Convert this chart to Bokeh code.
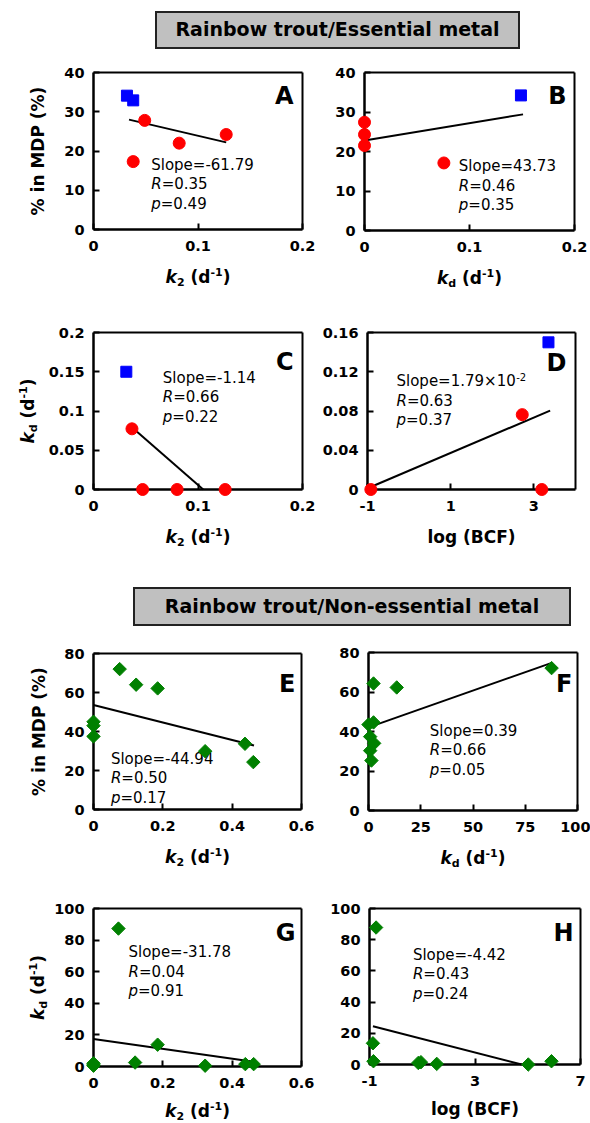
import numpy as np
from bokeh.plotting import figure
from bokeh.models import Range1d, FixedTicker, Label, Div, LinearAxis
from bokeh.layouts import column, row
from bokeh.embed import file_html
from bokeh.resources import INLINE

# ------------------------------------------------------------------ data
title_top = "Rainbow trout/Essential metal"
title_bottom = "Rainbow trout/Non-essential metal"

# Panel A: % in MDP vs k2 (essential)
a_red_x = [0.049, 0.082, 0.127, 0.038]
a_red_y = [27.8, 22.0, 24.2, 17.3]
a_blue_x = [0.032, 0.038]
a_blue_y = [34.1, 32.9]
a_fit_x = [0.034, 0.127]
a_fit_y = [28.0, 22.2]
a_stats = ["-61.79", "0.35", "0.49"]

# Panel B: % in MDP vs kd (essential)
b_red_x = [0.0, 0.0, 0.0, 0.0756]
b_red_y = [27.4, 24.3, 21.5, 17.1]
b_blue_x = [0.149]
b_blue_y = [34.2]
b_fit_x = [0.0, 0.151]
b_fit_y = [22.8, 29.4]
b_stats = ["43.73", "0.46", "0.35"]

# Panel C: kd vs k2 (essential)
c_red_x = [0.0368, 0.047, 0.080, 0.126]
c_red_y = [0.0773, 0.0, 0.0, 0.0]
c_blue_x = [0.0314]
c_blue_y = [0.150]
c_fit_x = [0.0337, 0.105]
c_fit_y = [0.0828, 0.0]
c_stats = ["-1.14", "0.66", "0.22"]

# Panel D: kd vs log(BCF) (essential)
d_red_x = [-0.92, 2.72, 3.19]
d_red_y = [0.0, 0.0763, 0.0]
d_blue_x = [3.35]
d_blue_y = [0.150]
d_fit_x = [-0.98, 3.39]
d_fit_y = [0.0015, 0.0804]
d_stats = ["1.79\u00d710", "0.63", "0.37"]
d_slope_exp = "-2"

# Panel E: % in MDP vs k2 (non-essential)
e_x = [0.0755, 0.123, 0.185, 0.0, 0.0, 0.0, 0.322, 0.437, 0.461]
e_y = [72.0, 64.0, 62.1, 45.0, 43.0, 37.5, 29.9, 33.7, 24.3]
e_fit_x = [0.0, 0.463]
e_fit_y = [53.6, 32.8]
e_stats = ["-44.94", "0.50", "0.17"]

# Panel F: % in MDP vs kd (non-essential)
f_x = [87.6, 2.4, 13.5, 0.0, 2.4, 0.8, 2.7, 0.8, 1.4]
f_y = [72.1, 64.3, 62.3, 43.5, 44.6, 37.4, 34.0, 30.3, 25.3]
f_fit_x = [0.0, 88.0]
f_fit_y = [42.1, 74.9]
f_stats = ["0.39", "0.66", "0.05"]

# Panel G: kd vs k2 (non-essential)
g_x = [0.072, 0.185, 0.0, 0.0, 0.0, 0.12, 0.322, 0.438, 0.462]
g_y = [87.3, 13.8, 2.0, 1.0, 0.5, 2.5, 0.5, 1.5, 1.5]
g_fit_x = [0.0, 0.462]
g_fit_y = [17.4, 3.0]
g_stats = ["-31.78", "0.04", "0.91"]

# Panel H: kd vs log(BCF) (non-essential)
h_x = [-0.75, -0.87, -0.85, 0.95, 0.85, 1.55, 5.02, 5.9]
h_y = [87.8, 13.6, 2.1, 1.5, 1.0, 0.4, 0.0, 2.1]
h_fit_x = [-0.87, 4.77]
h_fit_y = [24.5, 0.0]
h_stats = ["-4.42", "0.43", "0.24"]

# ticks
tk_k2_ess = [0, 0.1, 0.2]
tl_k2_ess = ["0", "0.1", "0.2"]
tk_pct40 = [0, 10, 20, 30, 40]
tl_pct40 = ["0", "10", "20", "30", "40"]
tk_kd_c = [0, 0.05, 0.1, 0.15, 0.2]
tl_kd_c = ["0", "0.05", "0.1", "0.15", "0.2"]
tk_kd_d = [0, 0.04, 0.08, 0.12, 0.16]
tl_kd_d = ["0", "0.04", "0.08", "0.12", "0.16"]
tk_bcf_d = [-1, 1, 3]
tl_bcf_d = ["-1", "1", "3"]
tk_k2_non = [0, 0.2, 0.4, 0.6]
tl_k2_non = ["0", "0.2", "0.4", "0.6"]
tk_pct80 = [0, 20, 40, 60, 80]
tl_pct80 = ["0", "20", "40", "60", "80"]
tk_kd_f = [0, 25, 50, 75, 100]
tl_kd_f = ["0", "25", "50", "75", "100"]
tk_kd100 = [0, 20, 40, 60, 80, 100]
tl_kd100 = ["0", "20", "40", "60", "80", "100"]
tk_bcf_h = [-1, 3, 7]
tl_bcf_h = ["-1", "3", "7"]

RED = "#ff0000"
BLUE = "#0000ff"
GREEN = "#008000"
FONT = "DejaVu Sans"

# ------------------------------------------------------------------ text helpers
W_BOLD = {' ': 0.348, '%': 1.002, '(': 0.457, ')': 0.457, '-': 0.415, '.': 0.380,
          'B': 0.762, 'C': 0.734, 'D': 0.830, 'F': 0.683, 'M': 0.995, 'P': 0.733,
          'd': 0.716, 'g': 0.716, 'i': 0.343, 'k': 0.665, 'l': 0.343, 'n': 0.712,
          'o': 0.687}
W_REG = {' ': 0.318, 'S': 0.635, 'l': 0.278, 'o': 0.612, 'p': 0.635, 'e': 0.615,
         '=': 0.838, '-': 0.361, '.': 0.318, 'R': 0.695, '\u00d7': 0.838}
BASE_FIX = 0.4  # renderer places the alphabetic baseline ~0.4 em low


def tw(s, size, bold):
    tbl = W_BOLD if bold else W_REG
    tot = 0.0
    for ch in s:
        if ch.isdigit():
            tot += 0.696 if bold else 0.636
        else:
            tot += tbl.get(ch, 0.65)
    return tot * size


def lab(p, text, x, y, size, style="normal", align="left", angle=0.0):
    if angle == 0.0:
        y = y + BASE_FIX * size
    else:
        x = x - BASE_FIX * size
    p.add_layout(Label(x=x, y=y, x_units="screen", y_units="screen", text=text,
                       text_font=FONT, text_font_size=f"{size}px",
                       text_font_style=style, text_color="black",
                       text_align=align, text_baseline="alphabetic", angle=angle))


def rich(p, pieces, x0, y0, vertical=False):
    # pieces: (text, style, size, shift, gap_px)
    total = sum(g + tw(t, s, "bold" in st) for t, st, s, sh, g in pieces)
    pos = -total / 2.0
    for t, st, s, sh, g in pieces:
        pos += g
        if vertical:
            lab(p, t, x0 - sh, y0 + pos, s, st, angle=np.pi / 2)
        else:
            lab(p, t, x0 + pos, y0 + sh, s, st)
        pos += tw(t, s, "bold" in st)


AX = 17
SUB = 11


def k_label(sub):
    return [("k", "bold italic", AX, 0, 0), (sub, "bold", SUB, -3, 0),
            ("(d", "bold", AX, 0, 0.348 * AX), ("-1", "bold", SUB, 7, 0),
            (")", "bold", AX, 0, 0)]


LBL_K2 = k_label("2")
LBL_KD = k_label("d")
LBL_BCF = [("log (BCF)", "bold", AX, 0, 0)]
LBL_MDP = [("% in MDP (%)", "bold", AX, 0, 0)]


def style_axis(ax, width):
    ax.axis_line_width = width
    ax.axis_line_color = "black"
    ax.major_tick_in = 6
    ax.major_tick_out = 0
    ax.major_tick_line_width = 2
    ax.major_tick_line_color = "black"
    ax.minor_tick_line_color = None
    ax.major_label_text_font = FONT
    ax.major_label_text_font_style = "bold"
    ax.major_label_text_font_size = "14.5px"
    ax.major_label_text_color = "black"


class Panel:
    def __init__(self, fw, fh, bl, br, bt, bb, xr, yr, xt, xl, yt, yl):
        self.fw, self.fh, self.bl, self.bb = fw, fh, bl, bb
        sx = fw / (xr[1] - xr[0])
        sy = fh / (yr[1] - yr[0])
        p = figure(width=bl + fw + br, height=bt + fh + bb,
                   x_range=Range1d(xr[0] - bl / sx, xr[1] + br / sx),
                   y_range=Range1d(yr[0] - bb / sy, yr[1] + bt / sy),
                   output_backend="svg", toolbar_location=None,
                   x_axis_location=None, y_axis_location=None,
                   min_border=0)
        for g in p.grid:
            g.visible = False
        p.outline_line_color = None
        p.background_fill_color = "white"
        p.border_fill_color = "white"

        bx = LinearAxis(fixed_location=yr[0], bounds=tuple(xr), ticker=FixedTicker(ticks=xt),
                        major_label_overrides=dict(zip(xt, xl)), major_label_standoff=11)
        style_axis(bx, 2.5)
        p.add_layout(bx, "below")
        ly = LinearAxis(fixed_location=xr[0], bounds=tuple(yr), ticker=FixedTicker(ticks=yt),
                        major_label_overrides=dict(zip(yt, yl)), major_label_standoff=9)
        style_axis(ly, 2.5)
        p.add_layout(ly, "left")
        tx = LinearAxis(fixed_location=yr[1], bounds=tuple(xr), ticker=FixedTicker(ticks=[]))
        style_axis(tx, 2)
        tx.major_label_text_font_size = "0px"
        p.add_layout(tx, "above")
        ry = LinearAxis(fixed_location=xr[1], bounds=tuple(yr), ticker=FixedTicker(ticks=[]))
        style_axis(ry, 2)
        ry.major_label_text_font_size = "0px"
        p.add_layout(ry, "right")
        self.p = p

    def fit(self, x, y):
        self.p.line(x, y, line_color="black", line_width=2)

    def circles(self, x, y):
        self.p.scatter(x, y, marker="circle", size=12, fill_color=RED, line_color=RED,
                       level="overlay")

    def squares(self, x, y):
        self.p.scatter(x, y, marker="square", size=11, fill_color=BLUE, line_color=BLUE,
                       level="overlay")

    def diamonds(self, x, y):
        self.p.scatter(x, y, marker="square", angle=np.pi / 4, size=9.5, fill_color=GREEN,
                       line_color=GREEN, level="overlay")

    def stats(self, dx, dy, st, exp=None):
        p = self.p
        x = self.bl + dx
        y1 = self.bb + self.fh - dy
        lab(p, "Slope=" + st[0], x, y1, 15)
        if exp:
            lab(p, exp, x + tw("Slope=" + st[0], 15, False) + 0.5, y1 + 6.5, 10)
        lab(p, "R", x, y1 - 19.5, 15, "italic")
        lab(p, "=" + st[1], x + tw("R", 15, False), y1 - 19.5, 15)
        lab(p, "p", x, y1 - 39, 15, "italic")
        lab(p, "=" + st[2], x + tw("p", 15, False), y1 - 39, 15)

    def letter(self, txt, inset, below):
        lab(self.p, txt, self.bl + self.fw - inset, self.bb + self.fh - below, 24, "bold",
            align="right")

    def xlabel(self, pieces, off=54):
        rich(self.p, pieces, self.bl + self.fw / 2, self.bb - off)

    def ylabel(self, pieces, off):
        rich(self.p, pieces, self.bl - off, self.bb + self.fh / 2, vertical=True)


# ------------------------------------------------------------------ panel A
A = Panel(209, 157, 93, 18, 12, 71, (0, 0.2), (0, 40), tk_k2_ess, tl_k2_ess, tk_pct40, tl_pct40)
A.fit(a_fit_x, a_fit_y)
A.squares(a_blue_x, a_blue_y)
A.circles(a_red_x, a_red_y)
A.stats(57.7, 98, a_stats)
A.letter("A", 9, 33)
A.xlabel(LBL_K2)
A.ylabel(LBL_MDP, 49)

# ------------------------------------------------------------------ panel B
B = Panel(210, 158, 44, 16, 12, 70, (0, 0.2), (0, 40), tk_k2_ess, tl_k2_ess, tk_pct40, tl_pct40)
B.fit(b_fit_x, b_fit_y)
B.squares(b_blue_x, b_blue_y)
B.circles(b_red_x, b_red_y)
B.stats(94.3, 99.7, b_stats)
B.letter("B", 8, 33)
B.xlabel(LBL_KD)

# ------------------------------------------------------------------ panel C
C = Panel(209, 157, 93, 18, 32, 81, (0, 0.2), (0, 0.2), tk_k2_ess, tl_k2_ess, tk_kd_c, tl_kd_c)
C.fit(c_fit_x, c_fit_y)
C.squares(c_blue_x, c_blue_y)
C.circles(c_red_x, c_red_y)
C.stats(69.3, 51.3, c_stats)
C.letter("C", 9, 39)
C.xlabel(LBL_K2)
C.ylabel(LBL_KD, 59)

# ------------------------------------------------------------------ panel D
D = Panel(208, 157, 47, 15, 32, 81, (-1, 4), (0, 0.16), tk_bcf_d, tl_bcf_d, tk_kd_d, tl_kd_d)
D.fit(d_fit_x, d_fit_y)
D.squares(d_blue_x, d_blue_y)
D.circles(d_red_x, d_red_y)
D.stats(29, 54.7, d_stats, exp=d_slope_exp)
D.letter("D", 9, 40)
D.xlabel(LBL_BCF)

# ------------------------------------------------------------------ panel E
E = Panel(208, 156, 93, 19, 13, 71, (0, 0.6), (0, 80), tk_k2_non, tl_k2_non, tk_pct80, tl_pct80)
E.fit(e_fit_x, e_fit_y)
E.diamonds(e_x, e_y)
E.stats(17.4, 111, e_stats)
E.letter("E", 6, 40)
E.xlabel(LBL_K2)
E.ylabel(LBL_MDP, 48)

# ------------------------------------------------------------------ panel F
F = Panel(209, 158, 48, 13, 12, 70, (0, 100), (0, 80), tk_kd_f, tl_kd_f, tk_pct80, tl_pct80)
F.fit(f_fit_x, f_fit_y)
F.diamonds(f_x, f_y)
F.stats(61.3, 84, f_stats)
F.letter("F", 5, 41)
F.xlabel(LBL_KD)

# ------------------------------------------------------------------ panel G
G = Panel(208, 158, 93, 19, 28, 57, (0, 0.6), (0, 100), tk_k2_non, tl_k2_non, tk_kd100, tl_kd100)
G.fit(g_fit_x, g_fit_y)
G.diamonds(g_x, g_y)
G.stats(35, 49.7, g_stats)
G.letter("G", 6, 34)
G.xlabel(LBL_K2, 51)
G.ylabel(LBL_KD, 49)

# ------------------------------------------------------------------ panel H
H = Panel(211, 156, 49, 10, 28, 59, (-1, 7), (0, 100), tk_bcf_h, tl_bcf_h, tk_kd100, tl_kd100)
H.fit(h_fit_x, h_fit_y)
H.diamonds(h_x, h_y)
H.stats(43.4, 52, h_stats)
H.letter("H", 7, 34)
H.xlabel(LBL_BCF, 51)


# ------------------------------------------------------------------ titles
def title_div(text, h, left, top, bw, bh):
    html = (f'<div style="position:relative;left:{left}px;top:{top}px;width:{bw}px;'
            f'height:{bh}px;box-sizing:border-box;border:2px solid #222;background:#c0c0c0;'
            f"font-family:'DejaVu Sans';font-weight:bold;font-size:19px;color:#000;"
            f'display:flex;align-items:center;justify-content:center;white-space:nowrap;">'
            f'{text}</div>')
    return Div(text=html, width=590, height=h, margin=0)


t1 = title_div(title_top, 60, 155, 11, 365, 38)
t2 = title_div(title_bottom, 70, 133, 17, 438, 39)

layout = column(t1, row(A.p, B.p, spacing=0), row(C.p, D.p, spacing=0), t2,
                row(E.p, F.p, spacing=0), row(G.p, H.p, spacing=0), spacing=0)

open("out.html", "w").write(file_html(layout, INLINE))
